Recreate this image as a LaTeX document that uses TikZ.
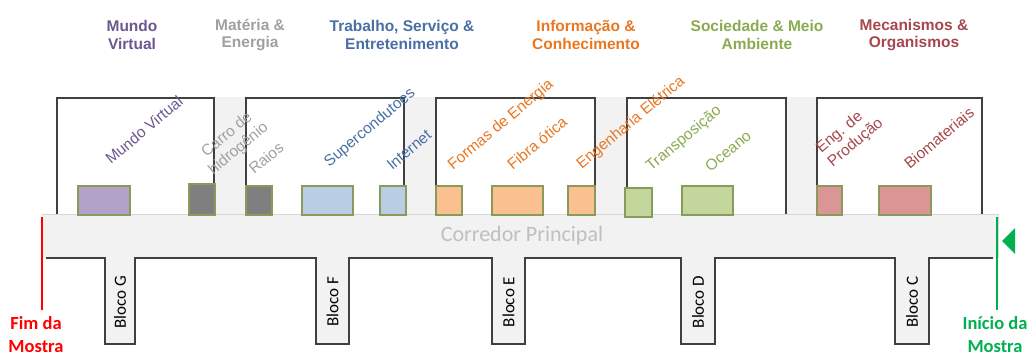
\documentclass[tikz,border=0pt]{standalone}
\usepackage{fontspec}
\setmainfont{Carlito}
\newfontfamily\arialfont{Liberation Sans}
\usetikzlibrary{positioning}

\definecolor{floorgray}{HTML}{F2F2F2}
\definecolor{floorline}{HTML}{D6D6D6}
\definecolor{wallgray}{HTML}{404040}
\definecolor{boxedge}{HTML}{8A9A5B}
\definecolor{mvtext}{HTML}{6A5890}
\definecolor{metext}{HTML}{A0A0A0}
\definecolor{tstext}{HTML}{4A6FA5}
\definecolor{ictext}{HTML}{E87722}
\definecolor{smtext}{HTML}{8AAA52}
\definecolor{motext}{HTML}{A5474C}
\definecolor{mvfill}{HTML}{B3A2C7}
\definecolor{mefill}{HTML}{7F7F7F}
\definecolor{tsfill}{HTML}{B9CDE5}
\definecolor{icfill}{HTML}{FAC090}
\definecolor{smfill}{HTML}{C3D69B}
\definecolor{mofill}{HTML}{D99694}
\definecolor{endred}{HTML}{FF0000}
\definecolor{startgreen}{HTML}{00B050}

\begin{document}
\begin{tikzpicture}[x=1pt, y=-1pt,
    wall/.style={draw=wallgray, line width=1.4pt},
    title/.style={font=\arialfont\bfseries\fontsize{15.5}{17.5}\selectfont, align=center, inner sep=0pt},
    topic/.style={font=\arialfont\fontsize{15.5}{18}\selectfont, rotate=40, align=center, inner sep=0pt},
    exhibit/.style={draw=boxedge, line width=1.1pt, minimum height=29pt, inner sep=0pt},
    bloco/.style={font=\fontsize{17}{20}\selectfont, rotate=90, inner sep=0pt},
    endnote/.style={font=\bfseries\fontsize{18.5}{23}\selectfont, align=center, inner sep=0pt}]
    \useasboundingbox (0,0) rectangle (1031,351);

    \fill[floorgray] (42,214) rectangle (998,258);
    \foreach \a/\b in {105/135, 316/349, 492/525, 681/715, 895/929}
        \fill[floorgray] (\a,257) rectangle (\b,344);
    \foreach \a/\b in {214/246, 404/436, 595/627, 786/817}
        \fill[floorgray] (\a,97) rectangle (\b,214);
    \draw[floorline, line width=0.8pt] (42,214) -- (998,214) -- (998,258);

    \draw[wall] (46,258) -- (105,258) -- (105,344) -- (135,344) -- (135,258)
        -- (316,258) -- (316,344) -- (349,344) -- (349,258)
        -- (492,258) -- (492,344) -- (525,344) -- (525,258)
        -- (681,258) -- (681,344) -- (715,344) -- (715,258)
        -- (895,258) -- (895,344) -- (929,344) -- (929,258) -- (993,258);
    \draw[wall] (57,214) |- (214,98) -- (214,214);
    \draw[wall] (246,214) |- (404,98) -- (404,214);
    \draw[wall] (436,214) |- (595,98) -- (595,214);
    \draw[wall] (627,214) |- (786,98) -- (786,214);
    \draw[wall] (817,214) |- (982,98) -- (982,214);

    \node[title, text=mvtext] (mvtitle) at (132,35) {Mundo\\Virtual};
    \node[title, text=metext] (metitle) at (250,35) {Matéria \&\\Energia};
    \node[title, text=tstext] (tstitle) at (402,35) {Trabalho, Serviço \&\\Entretenimento};
    \node[title, text=ictext] (ictitle) at (586,35) {Informação \&\\Conhecimento};
    \node[title, text=smtext] (smtitle) at (757,35) {Sociedade \& Meio\\Ambiente};
    \node[title, text=motext] (motitle) at (914,35) {Mecanismos \&\\Organismos};

    \node[exhibit, fill=mvfill, minimum width=52pt] (mvbox) at (104,200.5) {};
    \node[exhibit, fill=mefill, minimum width=26pt, minimum height=31pt] (carrobox) at (202,199.5) {};
    \node[exhibit, fill=mefill, minimum width=26pt] (raiosbox) at (259,200.5) {};
    \node[exhibit, fill=tsfill, minimum width=51pt] (superbox) at (327.5,200.5) {};
    \node[exhibit, fill=tsfill, minimum width=26pt] (netbox) at (393,200.5) {};
    \node[exhibit, fill=icfill, minimum width=26pt] (formasbox) at (449,200.5) {};
    \node[exhibit, fill=icfill, minimum width=51pt] (fibrabox) at (517.5,200.5) {};
    \node[exhibit, fill=icfill, minimum width=27pt] (engelbox) at (581.5,200.5) {};
    \node[exhibit, fill=smfill, minimum width=27pt] (transbox) at (638.5,202.5) {};
    \node[exhibit, fill=smfill, minimum width=51pt] (oceanobox) at (707.5,200.5) {};
    \node[exhibit, fill=mofill, minimum width=25pt] (engprodbox) at (829.5,200.5) {};
    \node[exhibit, fill=mofill, minimum width=52pt] (biobox) at (905,200.5) {};

    \node[topic, text=mvtext] (mvlabel) at (144,130) {Mundo Virtual};
    \node[topic, text=metext] (carrolabel) at (233,142) {Carro de\\hidrogênio};
    \node[topic, text=metext] (raioslabel) at (266,158) {Raios};
    \node[topic, text=tstext] (superlabel) at (370,128) {Supercondutoes};
    \node[topic, text=tstext] (netlabel) at (409,150) {Internet};
    \node[topic, text=ictext] (formaslabel) at (501,125) {Formas de Energia};
    \node[topic, text=ictext] (fibralabel) at (537,143) {Fibra ótica};
    \node[topic, text=ictext] (engellabel) at (631,123) {Engenharia Elétrica};
    \node[topic, text=smtext] (translabel) at (684,139) {Transposição};
    \node[topic, text=smtext] (oceanolabel) at (728,151) {Oceano};
    \node[topic, text=motext, align=left] (engprodlabel) at (850,136) {Eng. de\\Produção};
    \node[topic, text=motext] (biolabel) at (939,138) {Biomateriais};

    \node[font=\fontsize{22}{26}\selectfont, text=black!25, inner sep=0pt] (corredor) at (522,236) {Corredor Principal};

    \node[bloco] (blocog) at (120,302) {Bloco G};
    \node[bloco] (blocof) at (332.5,302) {Bloco F};
    \node[bloco] (blocoe) at (508.5,302) {Bloco E};
    \node[bloco] (blocod) at (698,302) {Bloco D};
    \node[bloco] (blococ) at (912,302) {Bloco C};

    \draw[endred, line width=1.6pt] (42,217) -- (42,310);
    \draw[startgreen, line width=1.6pt] (997,217) -- (997,310);
    \fill[startgreen] (1002,241) -- (1015,228) -- (1015,254) -- cycle;
    \node[endnote, text=endred, anchor=north] (fim) at (36,316) {Fim da\\Mostra};
    \node[endnote, text=startgreen, anchor=north] (inicio) at (995,316) {Início da\\Mostra};
\end{tikzpicture}
\end{document}
